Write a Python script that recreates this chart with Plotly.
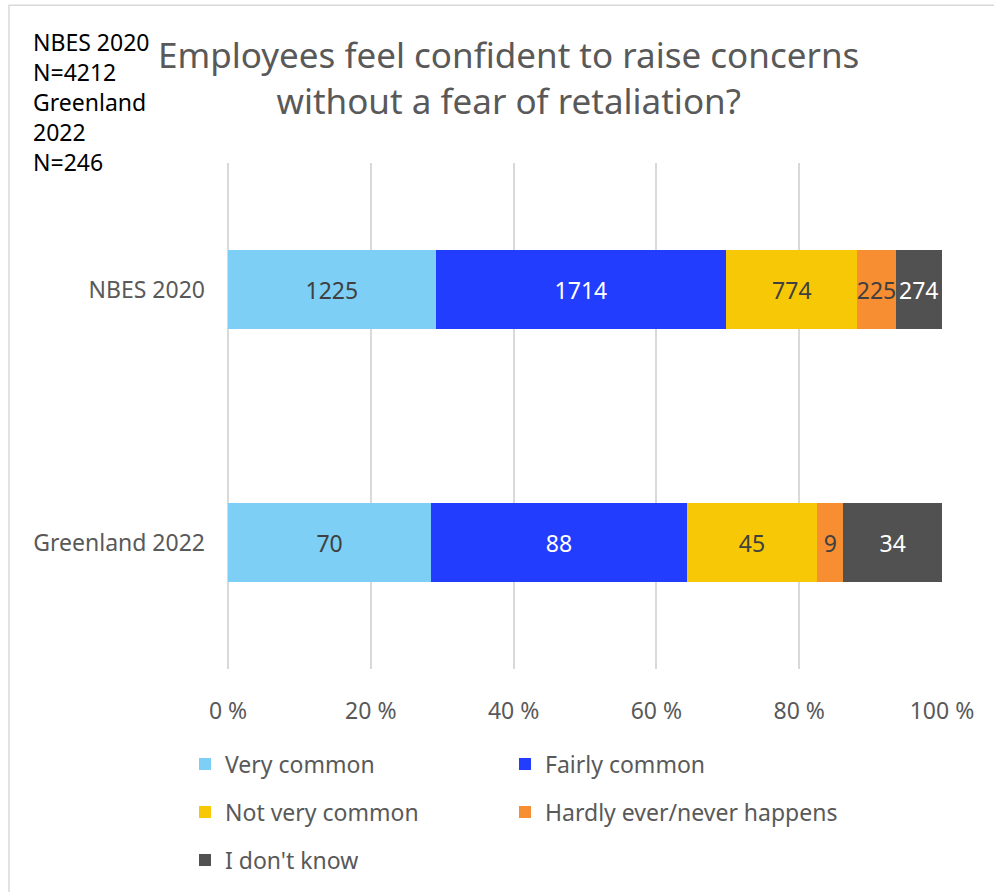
import plotly.graph_objects as go

# Survey groups (top to bottom) and answer counts per response
groups = ["NBES 2020", "Greenland 2022"]
responses = ["Very common", "Fairly common", "Not very common",
             "Hardly ever/never happens", "I don't know"]
very_common = [1225, 70]
fairly_common = [1714, 88]
not_very_common = [774, 45]
hardly_ever = [225, 9]
dont_know = [274, 34]
series = [very_common, fairly_common, not_very_common, hardly_ever, dont_know]

x_ticks = [0, 20, 40, 60, 80, 100]
x_tick_labels = ["0 %", "20 %", "40 %", "60 %", "80 %", "100 %"]

colors = ["#7DCFF5", "#233DFF", "#F7C806", "#F78E31", "#515151"]
label_colors = ["#404040", "#FFFFFF", "#404040", "#404040", "#FFFFFF"]

FONT = "Noto Sans"
FS = 23
W, H = 994, 892
L, R, T, B = 228, 52, 163, 222

# One legend box per entry, laid out as a two-column grid (pixel anchors)
legend_ids = ["legend", "legend2", "legend3", "legend4", "legend5"]
legend_pos = [(185, 764), (505, 764), (185, 812), (505, 812), (185, 860)]

fig = go.Figure()
for name, vals, col, lcol, lg in zip(responses, series, colors, label_colors, legend_ids):
    fig.add_trace(go.Bar(
        y=groups, x=vals, name=name, orientation="h",
        marker=dict(color=col, line=dict(width=0)),
        text=[str(v) for v in vals], textposition="inside",
        insidetextanchor="middle", constraintext="none", textangle=0,
        textfont=dict(family=FONT, size=FS, color=lcol),
        width=0.31, legend=lg,
    ))

pw = W - L - R
ph = H - T - B


def px_x(px):
    return (px - L) / pw


def px_y(py):
    return 1 - (py - T) / ph


legend_style = dict(orientation="v", xanchor="left", yanchor="middle",
                    font=dict(family=FONT, size=FS, color="#595959"),
                    itemwidth=30, bgcolor="rgba(0,0,0,0)")

legends = {lg: dict(x=px_x(px), y=px_y(py), **legend_style)
           for lg, (px, py) in zip(legend_ids, legend_pos)}

fig.update_layout(
    width=W, height=H,
    margin=dict(l=L, r=R, t=T, b=B),
    barmode="stack", barnorm="percent",
    plot_bgcolor="white", paper_bgcolor="white",
    font=dict(family=FONT, color="#595959"),
    xaxis=dict(range=[0, 100], tickvals=x_ticks, ticktext=x_tick_labels,
               showgrid=True, gridcolor="#D9D9D9", gridwidth=1.5,
               zeroline=True, zerolinecolor="#D9D9D9", zerolinewidth=1.5,
               showline=False, ticks="",
               tickfont=dict(family=FONT, size=FS, color="#595959"),
               ticklabelstandoff=26, fixedrange=True),
    yaxis=dict(autorange="reversed", showgrid=False, showline=False, ticks="",
               tickfont=dict(family=FONT, size=FS, color="#595959"),
               ticklabelstandoff=22, fixedrange=True),
    showlegend=True,
    **legends,
)

# Chart title
fig.add_annotation(
    text="Employees feel confident to raise concerns<br>without a fear of retaliation?",
    xref="paper", yref="paper", x=px_x(508), y=px_y(77),
    xanchor="center", yanchor="middle", align="center", showarrow=False,
    font=dict(family=FONT, size=35, color="#595959"),
)

# Sample-size note in the top-left corner
fig.add_annotation(
    text="NBES 2020<br>N=4212<br>Greenland<br>2022<br>N=246",
    xref="paper", yref="paper", x=px_x(31), y=px_y(102),
    xanchor="left", yanchor="middle", align="left", showarrow=False,
    font=dict(family=FONT, size=23, color="#000000"),
)

# Chart-area border
fig.add_shape(type="rect", xref="paper", yref="paper",
              x0=px_x(9), y0=px_y(H + 20), x1=px_x(W + 20), y1=px_y(5),
              line=dict(color="#D9D9D9", width=1.5), fillcolor="rgba(0,0,0,0)",
              layer="below")

fig.write_html("out.html")
